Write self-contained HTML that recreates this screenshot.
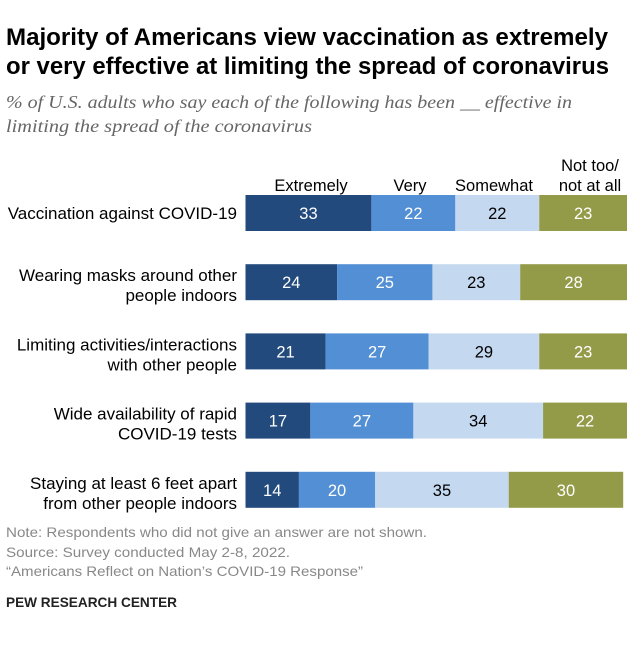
<!DOCTYPE html>
<html><head><meta charset="utf-8"><style>
body{margin:0;background:#fff;width:639px;height:641px;overflow:hidden;font-family:"Liberation Sans",Arial,sans-serif;}
</style></head><body>
<svg width="639" height="641" xmlns="http://www.w3.org/2000/svg" font-family="Liberation Sans, Arial, sans-serif">
<text x="6" y="45" font-size="24" font-weight="bold" fill="#000" textLength="602" lengthAdjust="spacingAndGlyphs">Majority of Americans view vaccination as extremely</text>
<text x="6" y="74" font-size="24" font-weight="bold" fill="#000" textLength="603" lengthAdjust="spacingAndGlyphs">or very effective at limiting the spread of coronavirus</text>
<text x="6" y="108" font-size="18" font-style="italic" fill="#666" font-family="Liberation Serif, serif" textLength="566" lengthAdjust="spacingAndGlyphs">% of U.S. adults who say each of the following has been __ effective in</text>
<text x="6" y="132" font-size="18" font-style="italic" fill="#666" font-family="Liberation Serif, serif" textLength="306" lengthAdjust="spacingAndGlyphs">limiting the spread of the coronavirus</text>
<g font-size="16.5" fill="#000" text-anchor="middle">
<text x="311" y="191">Extremely</text>
<text x="410" y="191">Very</text>
<text x="494" y="191">Somewhat</text>
<text x="590" y="171">Not too/</text>
<text x="590" y="191">not at all</text>
</g>
<g id="bars"></g>
<g font-size="14" fill="#888">
<text x="6" y="537" textLength="421" lengthAdjust="spacingAndGlyphs">Note: Respondents who did not give an answer are not shown.</text>
<text x="6" y="557" textLength="284" lengthAdjust="spacingAndGlyphs">Source: Survey conducted May 2-8, 2022.</text>
<text x="6" y="576" textLength="357" lengthAdjust="spacingAndGlyphs">“Americans Reflect on Nation’s COVID-19 Response”</text>
</g>
<text x="6" y="607" font-size="14" font-weight="bold" fill="#222" textLength="171" lengthAdjust="spacingAndGlyphs">PEW RESEARCH CENTER</text>
</svg>
<script>
const categories=[["Vaccination against COVID-19"],["Wearing masks around other","people indoors"],["Limiting activities/interactions","with other people"],["Wide availability of rapid","COVID-19 tests"],["Staying at least 6 feet apart","from other people indoors"]];
const extremely=[33,24,21,17,14];
const very=[22,25,27,27,20];
const somewhat=[22,23,29,34,35];
const notTooAtAll=[23,28,23,22,30];
const seriesNames=["extremely","very","somewhat","not-too"];
const colors=["#224a7c","#538fd4","#c4d8f0","#949b48"];
const textColors=["#fff","#fff","#000","#fff"];
const x0=245.5,unit=3.815,top0=195,step=69.2,bh=36;
const xs=v=>v*unit;
const ys=i=>top0+i*step;
const ns="http://www.w3.org/2000/svg";
const g=document.getElementById('bars');
const series=[extremely,very,somewhat,notTooAtAll];
categories.forEach((lines,i)=>{
  const y=ys(i);
  const cy=y+bh/2;
  lines.forEach((ln,k)=>{
    const t=document.createElementNS(ns,'text');
    
    
    t.setAttribute('x',237);t.setAttribute('text-anchor','end');t.setAttribute('font-size','17');
    t.setAttribute('y',cy+6+(k-(lines.length-1)/2)*20+(lines.length>1?3:0));
    t.textContent=ln;g.appendChild(t);
  });
  let acc=0;
  series.forEach((s,j)=>{
    const v=s[i];
    const r=document.createElementNS(ns,'rect');
    
    
    r.setAttribute('x',x0+xs(acc));r.setAttribute('y',y);r.setAttribute('width',xs(v));r.setAttribute('height',bh);r.setAttribute('fill',colors[j]);
    g.appendChild(r);
    const t=document.createElementNS(ns,'text');
    
    
    t.setAttribute('x',x0+xs(acc+v/2));t.setAttribute('y',cy+6);t.setAttribute('text-anchor','middle');t.setAttribute('font-size','16.5');t.setAttribute('fill',textColors[j]);
    t.textContent=v;g.appendChild(t);
    acc+=v;
  });
});
</script>
</body></html>
